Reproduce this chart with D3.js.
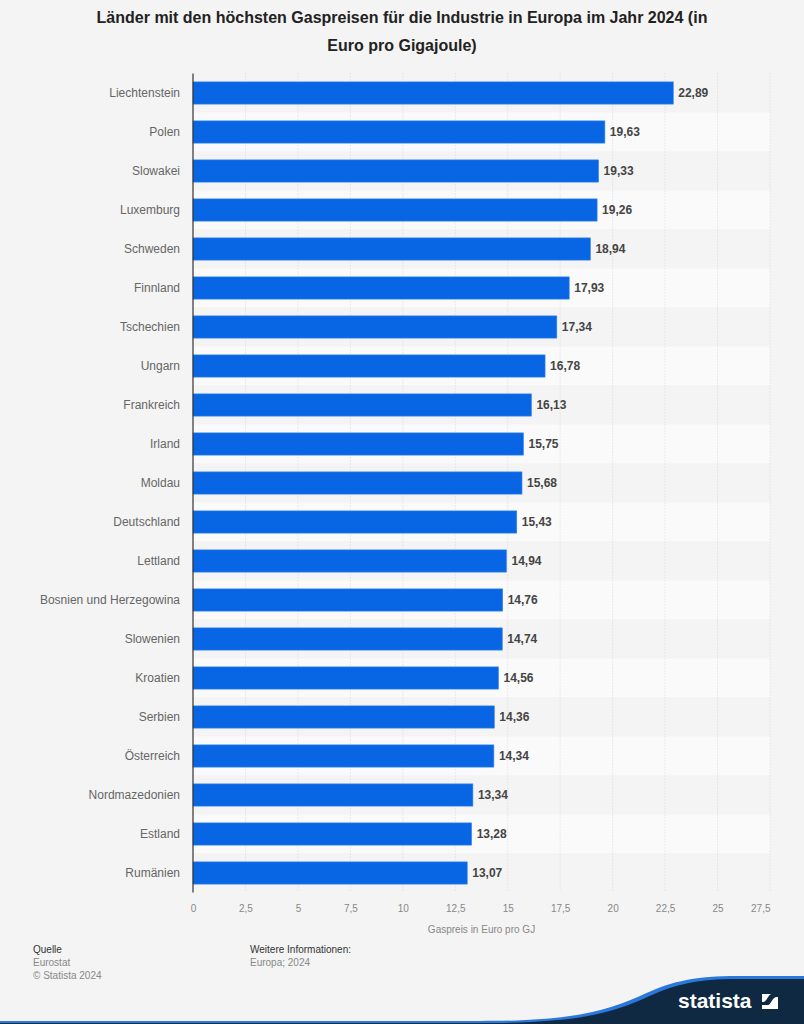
<!DOCTYPE html>
<html>
<head>
<meta charset="utf-8">
<script src="https://cdnjs.cloudflare.com/ajax/libs/d3/7.8.5/d3.min.js"></script>
<style>
  html, body { margin: 0; padding: 0; background: #f4f4f4; }
  svg { display: block; font-family: "Liberation Sans", Arial, sans-serif; }
</style>
</head>
<body>
<svg id="chart" width="804" height="1024"></svg>
<script>
// Daten (Eurostat, 2024)
var countries = ['Liechtenstein', 'Polen', 'Slowakei', 'Luxemburg', 'Schweden', 'Finnland',
  'Tschechien', 'Ungarn', 'Frankreich', 'Irland', 'Moldau', 'Deutschland', 'Lettland',
  'Bosnien und Herzegowina', 'Slowenien', 'Kroatien', 'Serbien', 'Österreich',
  'Nordmazedonien', 'Estland', 'Rumänien'];
var prices = [22.89, 19.63, 19.33, 19.26, 18.94, 17.93, 17.34, 16.78, 16.13, 15.75, 15.68,
  15.43, 14.94, 14.76, 14.74, 14.56, 14.36, 14.34, 13.34, 13.28, 13.07];
var ticks = [0, 2.5, 5, 7.5, 10, 12.5, 15, 17.5, 20, 22.5, 25, 27.5];

var titleLines = ['Länder mit den höchsten Gaspreisen für die Industrie in Europa im Jahr 2024 (in',
  'Euro pro Gigajoule)'];

var W = 804, H = 1024;
var margin = {top: 73.5, right: 34, bottom: 131.5, left: 193};

var svg = d3.select('#chart');
var fmt = function (v) { return String(v).replace('.', ','); };
var fmt2 = function (v) { return v.toFixed(2).replace('.', ','); };

var x = d3.scaleLinear().domain([0, 27.5]).range([margin.left, W - margin.right]);
var y = d3.scaleBand().domain(countries)
  .range([margin.top, H - margin.bottom])
  .paddingInner(0.43).paddingOuter(0.215);

var step = y.step();
var off = step * y.paddingInner() / 2;

// Titel
svg.append('g').selectAll('text')
  .data(titleLines).enter().append('text')
  .attr('x', W / 2).attr('y', function (d, i) { return 23 + i * 28; })
  .attr('text-anchor', 'middle')
  .attr('font-size', 16).attr('font-weight', 'bold').attr('fill', '#222')
  .text(function (d) { return d; });

// Streifen
svg.append('g').selectAll('rect')
  .data(countries).enter().append('rect')
  .attr('x', x(0)).attr('width', x(27.5) - x(0))
  .attr('y', function (d) { return y(d) - off; })
  .attr('height', step)
  .attr('fill', function (d, i) { return i % 2 ? '#fafafa' : '#f4f4f4'; });

// Gitterlinien
svg.append('g').selectAll('line')
  .data(ticks.slice(1)).enter().append('line')
  .attr('x1', function (d) { return x(d); }).attr('x2', function (d) { return x(d); })
  .attr('y1', margin.top).attr('y2', H - margin.bottom)
  .attr('stroke', '#d8d8d8').attr('stroke-width', 1).attr('stroke-dasharray', '1,2');

// Balken
svg.append('g').selectAll('rect')
  .data(prices).enter().append('rect')
  .attr('x', x(0))
  .attr('y', function (d, i) { return y(countries[i]); })
  .attr('width', function (d) { return x(d) - x(0); })
  .attr('height', y.bandwidth())
  .attr('fill', '#0866e4')
  .attr('stroke', '#3a86ee').attr('stroke-width', 0.6);

// Wertbeschriftungen
svg.append('g').selectAll('text')
  .data(prices).enter().append('text')
  .attr('x', function (d) { return x(d) + 5; })
  .attr('y', function (d, i) { return y(countries[i]) + y.bandwidth() / 2; })
  .attr('dy', '0.35em')
  .attr('font-size', 12).attr('font-weight', 'bold').attr('fill', '#444')
  .text(fmt2);

// Y-Achse
var yAxis = svg.append('g')
  .attr('transform', 'translate(' + x(0) + ',0)')
  .call(d3.axisLeft(y).tickSize(0).tickPadding(13));
yAxis.select('.domain').attr('stroke', '#333').attr('stroke-width', 1.2)
  .attr('d', 'M0,' + margin.top + 'V' + (H - margin.bottom));
yAxis.selectAll('text')
  .attr('font-size', 12).attr('fill', '#666')
  .attr('font-family', '"Liberation Sans", Arial, sans-serif');

// X-Achse
var xAxis = svg.append('g')
  .attr('transform', 'translate(0,' + (H - margin.bottom) + ')')
  .call(d3.axisBottom(x).tickValues(ticks).tickFormat(fmt).tickSize(0).tickPadding(12));
xAxis.select('.domain').remove();
xAxis.selectAll('text')
  .attr('font-size', 10).attr('fill', '#888')
  .attr('font-family', '"Liberation Sans", Arial, sans-serif');
xAxis.selectAll('.tick').filter(function (d) { return d === 27.5; })
  .select('text').attr('text-anchor', 'end').attr('x', 0);

svg.append('text')
  .attr('x', (x(0) + x(27.5)) / 2).attr('y', 933)
  .attr('text-anchor', 'middle')
  .attr('font-size', 10).attr('fill', '#888')
  .text('Gaspreis in Euro pro GJ');

// Fußzeile
var foot = svg.append('g').attr('font-size', 10);
foot.append('text').attr('x', 33).attr('y', 953).attr('fill', '#333').text('Quelle');
foot.append('text').attr('x', 33).attr('y', 966).attr('fill', '#888').text('Eurostat');
foot.append('text').attr('x', 33).attr('y', 979).attr('fill', '#888').text('© Statista 2024');
foot.append('text').attr('x', 250).attr('y', 953).attr('fill', '#333').text('Weitere Informationen:');
foot.append('text').attr('x', 250).attr('y', 966).attr('fill', '#888').text('Europa; 2024');

// Logo
var logo = svg.append('g');
var wave = 'M0,1024 L0,1021 L480,1021 C560,1021 600,1014 640,996 C670,982 690,977 730,976 L804,976 L804,1024 Z';
logo.append('path').attr('d', wave).attr('fill', '#2b78dd');
logo.append('path')
  .attr('d', 'M0,1024 L0,1023 L480,1023 C562,1023 603,1017 643,999 C673,985 693,980 730,979 L804,979 L804,1024 Z')
  .attr('fill', '#0e2941');
logo.append('text').attr('x', 678).attr('y', 1008)
  .attr('font-size', 21).attr('font-weight', 'bold').attr('fill', '#fff')
  .text('statista');
logo.append('rect').attr('x', 762).attr('y', 994).attr('width', 16).attr('height', 15).attr('fill', '#fff');
logo.append('path')
  .attr('d', 'M762,1005 L768,1005 C771,1005 772,997 777,997 L778,997 L778,994 L772,994 C768,994 767,1002 763,1002 L762,1002 Z')
  .attr('fill', '#0e2941');
</script>
</body>
</html>
